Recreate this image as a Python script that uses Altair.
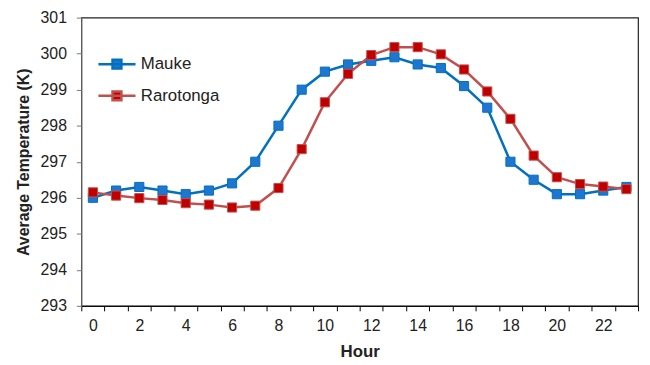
import altair as alt
import pandas as pd

hours = list(range(24))
mauke = [296.0, 296.2, 296.3, 296.2, 296.1, 296.2, 296.4, 297.0, 298.0, 299.0, 299.5, 299.7,
         299.8, 299.9, 299.7, 299.6, 299.1, 298.5, 297.0, 296.5, 296.1, 296.1, 296.2, 296.3]
rarotonga = [296.15, 296.06, 295.99, 295.94, 295.85, 295.81, 295.73, 295.78, 296.27, 297.35, 298.65, 299.44,
             299.96, 300.18, 300.18, 299.98, 299.56, 298.95, 298.19, 297.17, 296.57, 296.38, 296.31, 296.24]
series_names = ["Mauke", "Rarotonga"]
x_tick_positions = [h - 0.5 for h in range(25)]
y_ticks = list(range(293, 302))

df = pd.DataFrame({
    "Hour": hours * 2,
    "Temp": mauke + rarotonga,
    "Series": ["Mauke"] * 24 + ["Rarotonga"] * 24,
})

line_colors = ["#0070C0", "#C0504D"]
marker_fill = ["#1F76CF", "#C00000"]

x_enc = alt.X("Hour:Q", scale=alt.Scale(domain=[-0.5, 23.5], nice=False, zero=False),
              axis=alt.Axis(values=x_tick_positions, title="Hour",
                            labelExpr="((datum.value + 0.5) % 2 == 0 && datum.value < 23) ? format(datum.value + 0.5, 'd') : ''",
                            labelOffset=11.7, labelFlush=False, labelOverlap=False,
                            labelFontSize=16, labelPadding=7, titleFontSize=17, titlePadding=10,
                            tickSize=5, tickColor="#000", domainColor="#000", grid=False))
y_enc = alt.Y("Temp:Q", scale=alt.Scale(domain=[293, 301], nice=False, zero=False),
              axis=alt.Axis(values=y_ticks, title="Average Temperature (K)", format="d",
                            labelOverlap=False, labelFlush=False,
                            labelFontSize=16, labelPadding=10, titleFontSize=16, titlePadding=9,
                            tickSize=5, tickColor="#777", domainColor="#777", grid=False))

legend_path = "M-1,0H1M-0.24,-0.24H0.24V0.24H-0.24Z"
leg = alt.Legend(title=None, orient="none", legendX=16, legendY=27,
                 symbolType=legend_path, symbolSize=1400, symbolStrokeWidth=2.5,
                 labelFontSize=17, labelOffset=4, rowPadding=2, symbolOpacity=1)

lines = alt.Chart(df).mark_line(strokeWidth=2.5).encode(
    x=x_enc, y=y_enc,
    stroke=alt.Stroke("Series:N", scale=alt.Scale(domain=series_names, range=line_colors), legend=leg),
    detail="Series:N",
)

squares = alt.Chart(df).mark_square(size=85, filled=True, opacity=1, strokeWidth=1).encode(
    x=x_enc, y=y_enc,
    fill=alt.Fill("Series:N", scale=alt.Scale(domain=series_names, range=marker_fill), legend=leg),
    stroke=alt.Stroke("Series:N", legend=leg),
)

chart = alt.layer(lines, squares).properties(
    width=562, height=291,
    autosize=alt.AutoSizeParams(type="none"),
    padding={"left": 74, "top": 8, "right": 4, "bottom": 58},
).configure(font="Liberation Sans").configure_axis(
    labelFont="Liberation Sans", titleFont="Liberation Sans", labelColor="#222", titleColor="#222",
    titleFontWeight="bold"
).configure_view(stroke="#222", strokeWidth=1.2).configure_legend(
    labelFont="Liberation Sans", labelColor="#222"
)

chart.save("out.html", embed_options={"renderer": "svg", "actions": False})
